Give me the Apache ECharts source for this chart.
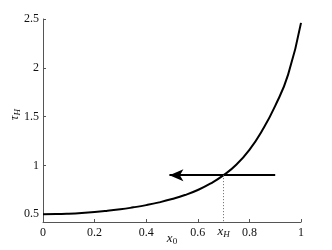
<!DOCTYPE html>
<html><head><meta charset="utf-8">
<script src="https://cdn.jsdelivr.net/npm/echarts@6/dist/echarts.min.js"></script>
<style>html,body{margin:0;padding:0;background:#fff}#c{width:332px;height:250px}</style>
</head><body><div id="c"></div>
<script>
const xValues = [0, 0.05, 0.1, 0.15, 0.2, 0.25, 0.3, 0.35, 0.4, 0.45, 0.5, 0.55, 0.6, 0.65, 0.7, 0.75, 0.8, 0.85, 0.9, 0.95, 1.0];
const tauValues = [0.5, 0.501, 0.505, 0.512, 0.522, 0.535, 0.55, 0.57, 0.593, 0.621, 0.655, 0.696, 0.748, 0.815, 0.9, 1.01, 1.16, 1.36, 1.61, 1.93, 2.46];
const xTicks = [0, 0.2, 0.4, 0.6, 0.8, 1];
const yTicks = [0.5, 1, 1.5, 2, 2.5];
const arrowFrom = [0.9, 0.9];
const arrowTo = [0.49, 0.9];
const xH = 0.7, tauH = 0.9;
const yMin = 0.42, yMax = 2.5;

const font = 'Liberation Serif';
const chart = echarts.init(document.getElementById('c'), null, {renderer: 'canvas'});
const axisCommon = {
  axisLine: {lineStyle: {color: '#555', width: 1}},
  axisTick: {inside: true, length: 3, lineStyle: {color: '#555'}},
  splitLine: {show: false},
  axisLabel: {color: '#111', fontFamily: font, fontSize: 12}
};
chart.setOption({
  animation: false,
  grid: {left: 43, right: 31, top: 19, bottom: 28},
  xAxis: Object.assign({}, axisCommon, {
    type: 'value', min: 0, max: 1, interval: 0.2,
    axisLabel: Object.assign({}, axisCommon.axisLabel, {margin: 5, formatter: v => String(+v.toFixed(1))})
  }),
  yAxis: Object.assign({}, axisCommon, {
    type: 'value', min: yMin, max: yMax,
    axisTick: Object.assign({}, axisCommon.axisTick, {customValues: yTicks}),
    axisLabel: Object.assign({}, axisCommon.axisLabel, {margin: 4, customValues: yTicks, formatter: v => String(+v.toFixed(1))})
  }),
  series: [{
    type: 'line', smooth: 0.5, symbol: 'none',
    data: xValues.map((x, i) => [x, tauValues[i]]),
    lineStyle: {color: '#000', width: 2},
    markLine: {
      silent: true, animation: false,
      data: [
        [{coord: arrowFrom, symbol: 'none', lineStyle: {color: '#000', width: 2, type: 'solid'}},
         {coord: arrowTo, symbol: 'arrow', symbolSize: [9, 14]}],
        [{coord: [xH, tauH], symbol: 'none', lineStyle: {color: '#666', width: 1, type: [1, 2]}},
         {coord: [xH, yMin], symbol: 'none'}]
      ],
      label: {show: false}
    }
  }]
});

const pH = chart.convertToPixel({gridIndex: 0}, [xH, yMin]);
const pX0 = chart.convertToPixel({gridIndex: 0}, [0.5, yMin]);
const pT = chart.convertToPixel({gridIndex: 0}, [0, 1.5]);
const rich = {
  i: {fontFamily: font, fontStyle: 'italic', fontSize: 13, fill: '#111'},
  s: {fontFamily: font, fontStyle: 'italic', fontSize: 9, fill: '#111', padding: [6, 0, 0, 0]},
  s0: {fontFamily: font, fontSize: 9, fill: '#111', padding: [6, 0, 0, 0]}
};
chart.setOption({
  graphic: [
    {type: 'text', x: pH[0], y: pH[1] + 10, style: {text: '{i|x}{s|H}', rich: rich, align: 'center', verticalAlign: 'middle'}},
    {type: 'text', x: pX0[0], y: pX0[1] + 17, style: {text: '{i|x}{s0|0}', rich: rich, align: 'center', verticalAlign: 'middle'}},
    {type: 'text', x: 15, y: pT[1] - 2, rotation: Math.PI / 2, style: {text: '{i|τ}{s|H}', rich: rich, align: 'center', verticalAlign: 'middle'}}
  ]
});
</script></body></html>
